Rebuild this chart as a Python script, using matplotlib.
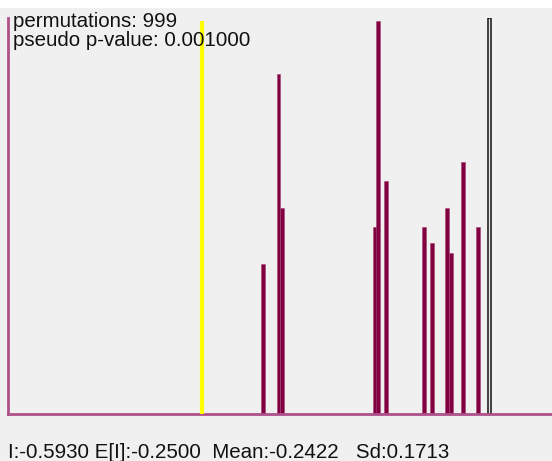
"""
Moran's I permutation test histogram (GeoDa style)
"""

import matplotlib
matplotlib.use("Agg")
import matplotlib.pyplot as plt
from matplotlib.patches import Rectangle

# permutation results: bin centres (Moran's I) and counts
bin_centers = [-0.4747, -0.4447, -0.4375, -0.2581, -0.2517, -0.2366,
               -0.1617, -0.1474, -0.1171, -0.1102, -0.0875, -0.0578]
bin_counts = [56, 127, 77, 70, 147, 87, 70, 64, 77, 60, 94, 70]
bin_width = 0.0076

observed_I = -0.5930
expected_I = -0.2500
perm_mean = -0.2422
perm_sd = 0.1713
marker_I = -0.0355
permutations = 999
p_value = 0.001

W, H = 552, 461
bg = "#f0f0f0"
bar_color = "#800040"
edge_color = "#a84278"
axis_color = "#b0508a"

fig = plt.figure(figsize=(W / 100, H / 100), dpi=100, facecolor=bg)
fig.patches.append(Rectangle((0, 1 - 8 / H), 1, 8 / H, transform=fig.transFigure,
                             facecolor="white", edgecolor="none", zorder=0))

ax = fig.add_axes([8 / W, (H - 414) / H, 1 - 8 / W, 396 / H])
ax.set_facecolor(bg)

ymax = 148
ax.bar(bin_centers, bin_counts, width=bin_width, color=bar_color,
       edgecolor=edge_color, linewidth=0.4, zorder=2)

# observed statistic
ax.vlines(observed_I, 0, max(bin_counts), color="#ffff00", linewidth=3, zorder=3)
# hollow marker bar
ax.bar([marker_I], [ymax], width=0.0062, color="#e8e8e8", edgecolor="#222222",
       linewidth=1.2, zorder=2)

ax.set_xlim(-0.9692, 0.0857)
ax.set_ylim(0, ymax)
for side in ("top", "right"):
    ax.spines[side].set_visible(False)
for side in ("left", "bottom"):
    ax.spines[side].set_color(axis_color)
    ax.spines[side].set_linewidth(2)
ax.set_xticks([])
ax.set_yticks([])

font = dict(family=["Liberation Sans", "DejaVu Sans"], fontsize=14.75, color="#111111")
fig.text(13 / W, 1 - 27 / H, f"permutations: {permutations}", va="baseline", **font)
fig.text(13 / W, 1 - 46 / H, f"pseudo p-value: {p_value:.6f}", va="baseline", **font)
fig.text(8 / W, 1 - 458 / H,
         f"I:{observed_I:.4f} E[I]:{expected_I:.4f}  Mean:{perm_mean:.4f}   Sd:{perm_sd:.4f}",
         va="baseline", **font)

fig.savefig("out.png", dpi=100, facecolor=bg)
